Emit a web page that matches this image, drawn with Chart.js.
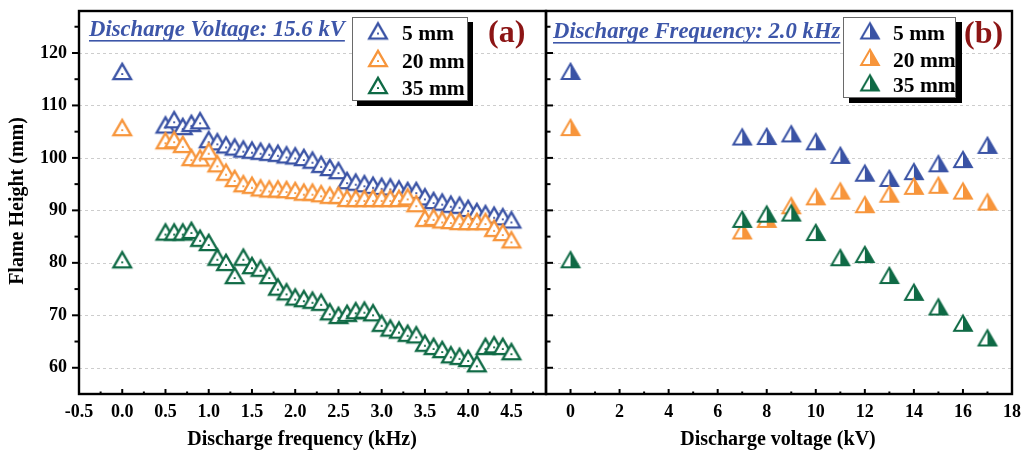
<!DOCTYPE html>
<html>
<head>
<meta charset="utf-8">
<title>Flame height vs discharge frequency and voltage</title>
<script src="https://cdn.jsdelivr.net/npm/chart.js@4.4.1/dist/chart.umd.min.js"></script>
<style>
  html, body { margin: 0; padding: 0; background: #ffffff; }
  #stage { position: relative; width: 1025px; height: 457px; overflow: hidden; background: #ffffff; }
  #stage canvas { position: absolute; left: 0; top: 0; }
</style>
</head>
<body>
<div id="stage">
  <canvas id="panelA" width="1025" height="457"></canvas>
  <canvas id="panelB" width="1025" height="457"></canvas>
</div>
<script>
// ---------- data: panel (a), flame height vs discharge frequency (15.6 kV) ----------
const freqKHz = [0, 0.5, 0.6, 0.7, 0.8, 0.9, 1.0, 1.1, 1.2, 1.3, 1.4, 1.5, 1.6, 1.7, 1.8, 1.9, 2.0,
  2.1, 2.2, 2.3, 2.4, 2.5, 2.6, 2.7, 2.8, 2.9, 3.0, 3.1, 3.2, 3.3, 3.4, 3.5, 3.6, 3.7, 3.8, 3.9,
  4.0, 4.1, 4.2, 4.3, 4.4, 4.5];
const flameFreq5mm = [116.0, 105.8, 106.8, 105.5, 106.1, 106.6, 103.0, 102.6, 102.0, 101.6, 101.2,
  101.0, 100.8, 100.6, 100.4, 100.1, 99.9, 99.6, 99.1, 98.3, 97.7, 97.1, 95.2, 94.9, 94.6, 94.3,
  94.1, 94.0, 93.6, 93.3, 93.3, 92.1, 91.4, 91.1, 90.7, 90.5, 89.9, 89.3, 88.9, 88.6, 88.3, 87.7];
const flameFreq20mm = [105.3, 102.8, 103.0, 102.1, 99.6, 99.5, 100.8, 98.4, 96.8, 95.6, 94.6,
  94.3, 93.8, 93.6, 93.6, 93.5, 93.3, 93.0, 93.0, 92.7, 92.4, 92.4, 91.8, 91.8, 91.8, 91.8,
  91.8, 91.8, 91.8, 92.1, 90.8, 88.0, 88.2, 87.7, 87.6, 87.4, 87.4, 87.4, 87.4, 86.1, 85.3, 83.9];
const flameFreq35mm = [80.1, 85.4, 85.4, 85.4, 85.7, 84.2, 83.4, 80.6, 79.6, 77.1, 80.6,
  79.0, 78.5, 77.1, 74.9, 74.0, 73.0, 72.7, 72.4, 72.0, 70.2, 69.5, 69.9, 70.4, 70.5, 70.0,
  68.0, 67.1, 66.7, 66.1, 65.8, 64.2, 63.6, 63.0, 62.0, 61.7, 61.3, 60.3, 63.6, 63.9, 63.6, 62.6];

// ---------- data: panel (b), flame height vs discharge voltage (2.0 kHz) ----------
const voltKV = [0, 7, 8, 9, 10, 11, 12, 13, 14, 15, 16, 17];
const flameVolt5mm = [116.0, 103.5, 103.6, 104.1, 102.6, 100.0, 96.6, 95.6, 96.9, 98.4, 99.2, 101.9];
const flameVolt20mm = [105.3, 85.6, 87.8, 90.4, 92.1, 93.2, 90.6, 92.6, 94.1, 94.3, 93.2, 91.1];
const flameVolt35mm = [80.1, 87.8, 88.8, 89.0, 85.3, 80.5, 81.1, 77.1, 73.9, 71.1, 68.0, 65.2];

const seriesNames = ['5 mm', '20 mm', '35 mm'];
const freqTicks = [-0.5, 0, 0.5, 1, 1.5, 2, 2.5, 3, 3.5, 4, 4.5];
const voltTicks = [0, 2, 4, 6, 8, 10, 12, 14, 16, 18];
const heightTicks = [60, 70, 80, 90, 100, 110, 120];

// ---------- styling ----------
const SERIF = "'Liberation Serif', 'Times New Roman', Times, serif";
const COLORS = ['#3a53a5', '#f7953b', '#0f6a45'];
const TITLE_BLUE = '#3d56a9';
const PANEL_RED = '#8c1515';

// triangle marker bitmaps: 'open' = hollow with a centre dot, 'half' = right half filled
function triangleMarker(color, kind) {
  const S = 30, c = S / 2, R = 10.2;
  const cv = document.createElement('canvas');
  cv.width = S; cv.height = S;
  const g = cv.getContext('2d');
  const hw = R * Math.sqrt(3) / 2;
  const top = [c, c - R], bl = [c - hw, c + R / 2], br = [c + hw, c + R / 2];
  const outline = () => { g.beginPath(); g.moveTo(top[0], top[1]); g.lineTo(br[0], br[1]); g.lineTo(bl[0], bl[1]); g.closePath(); };
  outline(); g.fillStyle = '#ffffff'; g.fill();
  if (kind === 'half') {
    g.beginPath(); g.moveTo(top[0], top[1]); g.lineTo(br[0], br[1]); g.lineTo(c, c + R / 2); g.closePath();
    g.fillStyle = color; g.fill();
  }
  outline();
  g.lineJoin = 'miter'; g.lineWidth = kind === 'half' ? 2.0 : 2.3; g.strokeStyle = color; g.stroke();
  if (kind === 'open') { g.fillStyle = color; g.fillRect(c - 1, c - 0.8, 2, 1.8); }
  return cv;
}
const openMarkers = COLORS.map(c => triangleMarker(c, 'open'));
const halfMarkers = COLORS.map(c => triangleMarker(c, 'half'));

const pairs = (xs, ys) => xs.map((v, i) => ({ x: v, y: ys[i] }));

function minorBetween(major, max) {
  const out = [];
  for (let i = 0; i < major.length - 1; i++) out.push((major[i] + major[i + 1]) / 2);
  const step = major[1] - major[0];
  const extra = major[major.length - 1] + step / 2;
  if (extra < max) out.push(extra);
  return out;
}

// frame, ticks, grid, titles, legend and panel letter
function decorPlugin(cfg) {
  return {
    id: 'decor',
    beforeDatasetsDraw(chart) {
      const { ctx, chartArea: a, scales: { y } } = chart;
      ctx.save();
      ctx.strokeStyle = '#cdcdcd'; ctx.lineWidth = 1; ctx.setLineDash([3, 3]);
      heightTicks.forEach(v => {
        const py = Math.round(y.getPixelForValue(v)) + 0.5;
        ctx.beginPath(); ctx.moveTo(a.left, py); ctx.lineTo(a.right, py); ctx.stroke();
      });
      ctx.restore();
    },
    afterDraw(chart) {
      const { ctx, chartArea: a, scales: { x, y } } = chart;
      ctx.save();
      ctx.setLineDash([]);
      // frame
      ctx.strokeStyle = '#000'; ctx.lineWidth = 2.4; ctx.lineCap = 'square';
      ctx.strokeRect(a.left, a.top, a.right - a.left, a.bottom - a.top);
      ctx.lineCap = 'butt'; ctx.lineWidth = 2;
      // y ticks
      const yMinor = minorBetween(heightTicks, y.max);
      const yTick = (v, len) => {
        const py = y.getPixelForValue(v);
        ctx.beginPath(); ctx.moveTo(a.left, py); ctx.lineTo(a.left + cfg.yDir * len, py); ctx.stroke();
      };
      heightTicks.forEach(v => yTick(v, 7));
      yMinor.forEach(v => yTick(v, 4.5));
      // x ticks (pointing into the plot)
      const xMinor = minorBetween(cfg.xTicks, x.max);
      const xTick = (v, len) => {
        const px = x.getPixelForValue(v);
        ctx.beginPath(); ctx.moveTo(px, a.bottom); ctx.lineTo(px, a.bottom - len); ctx.stroke();
      };
      cfg.xTicks.forEach(v => { if (v > x.min) xTick(v, 5); });
      xMinor.forEach(v => xTick(v, 2.5));

      // axis titles
      ctx.fillStyle = '#000';
      ctx.font = `bold 20px ${SERIF}`;
      ctx.textAlign = 'center'; ctx.textBaseline = 'middle';
      ctx.fillText(cfg.xTitle, cfg.xTitlePos[0], cfg.xTitlePos[1]);
      if (cfg.yTitle) {
        ctx.save();
        ctx.translate(cfg.yTitlePos[0], cfg.yTitlePos[1]);
        ctx.rotate(-Math.PI / 2);
        ctx.fillText(cfg.yTitle, 0, 0);
        ctx.restore();
      }

      // underlined condition title
      ctx.font = `italic bold 22.7px ${SERIF}`;
      ctx.textAlign = 'left'; ctx.textBaseline = 'alphabetic';
      ctx.fillStyle = TITLE_BLUE;
      ctx.fillText(cfg.note, cfg.notePos[0], cfg.notePos[1]);
      const nw = ctx.measureText(cfg.note).width;
      ctx.fillRect(cfg.notePos[0], cfg.notePos[1] + 4, nw, 1.6);

      // legend box with drop shadow
      const L = cfg.legend;
      ctx.fillStyle = '#000';
      ctx.fillRect(L.x + L.sx, L.y + L.sy, L.w, L.h);
      ctx.fillStyle = '#fff';
      ctx.fillRect(L.x, L.y, L.w, L.h);
      ctx.strokeStyle = '#6a6a6a'; ctx.lineWidth = 1;
      ctx.strokeRect(L.x + 0.5, L.y + 0.5, L.w - 1, L.h - 1);
      ctx.font = `bold 21.5px ${SERIF}`;
      ctx.textBaseline = 'middle'; ctx.fillStyle = '#000';
      seriesNames.forEach((name, i) => {
        const ry = L.rowY[i];
        const m = cfg.markers[i];
        ctx.drawImage(m, L.iconX - m.width / 2, ry - m.height / 2);
        ctx.fillText(name, L.textX, ry + 1);
      });

      // panel letter
      ctx.font = `bold 32px ${SERIF}`;
      ctx.fillStyle = PANEL_RED;
      ctx.fillText(cfg.letter, cfg.letterPos[0], cfg.letterPos[1]);
      ctx.restore();
    }
  };
}

const tickFont = { family: SERIF, size: 18, weight: 'bold' };

function makePanel(canvasId, cfg) {
  const datasets = cfg.series.map((ys, i) => ({
    label: seriesNames[i],
    data: pairs(cfg.xs, ys),
    pointStyle: cfg.markers[i],
    pointRadius: 10,
    showLine: false,
    order: 2 - i
  }));
  return new Chart(document.getElementById(canvasId), {
    type: 'scatter',
    data: { datasets },
    options: {
      responsive: false,
      animation: false,
      events: [],
      layout: { padding: cfg.padding },
      plugins: { legend: { display: false }, tooltip: { enabled: false }, title: { display: false } },
      scales: {
        x: {
          type: 'linear', min: cfg.xMin, max: cfg.xMax,
          grid: { display: false, drawTicks: false }, border: { display: false },
          afterBuildTicks: s => { s.ticks = cfg.xTicks.map(v => ({ value: v })); },
          afterFit: s => { s.height = 63; s.paddingLeft = 0; s.paddingRight = 0; },
          ticks: { font: tickFont, color: '#000', padding: 8, maxRotation: 0, autoSkip: false,
                   callback: cfg.xFormat }
        },
        y: {
          type: 'linear', min: 55, max: 128,
          grid: { display: false, drawTicks: false }, border: { display: false },
          afterBuildTicks: s => { s.ticks = heightTicks.map(v => ({ value: v })); },
          afterFit: s => { s.width = cfg.yWidth; s.paddingTop = 0; s.paddingBottom = 0; },
          ticks: { display: cfg.yLabels, font: tickFont, color: '#000', padding: 12,
                   callback: v => String(v) }
        }
      }
    },
    plugins: [decorPlugin(cfg)]
  });
}

makePanel('panelA', {
  xs: freqKHz,
  series: [flameFreq5mm, flameFreq20mm, flameFreq35mm],
  markers: openMarkers,
  padding: { left: 0, top: 7, right: 1025 - 546, bottom: 0 },
  yWidth: 79, yLabels: true, yDir: -1,
  xMin: -0.5, xMax: 4.9, xTicks: freqTicks,
  xFormat: v => Number(v).toFixed(1),
  xTitle: 'Discharge frequency (kHz)', xTitlePos: [302, 440],
  yTitle: 'Flame Height (mm)', yTitlePos: [18, 201],
  note: 'Discharge Voltage: 15.6 kV', notePos: [89, 36],
  legend: { x: 352, y: 17, w: 116, h: 84, sx: 5, sy: 5, iconX: 378, textX: 402, rowY: [33.5, 61, 88] },
  letter: '(a)', letterPos: [488, 34]
});

makePanel('panelB', {
  xs: voltKV,
  series: [flameVolt5mm, flameVolt20mm, flameVolt35mm],
  markers: halfMarkers,
  padding: { left: 546, top: 7, right: 1025 - 1012, bottom: 0 },
  yWidth: 0, yLabels: false, yDir: 1,
  xMin: -1, xMax: 18, xTicks: voltTicks,
  xFormat: v => String(v),
  xTitle: 'Discharge voltage (kV)', xTitlePos: [778, 440],
  yTitle: null,
  note: 'Discharge Frequency: 2.0 kHz', notePos: [553, 38],
  legend: { x: 843, y: 17, w: 113, h: 81, sx: 6, sy: 5, iconX: 870, textX: 893, rowY: [33.5, 60, 85.5] },
  letter: '(b)', letterPos: [964, 35]
});
</script>
</body>
</html>
